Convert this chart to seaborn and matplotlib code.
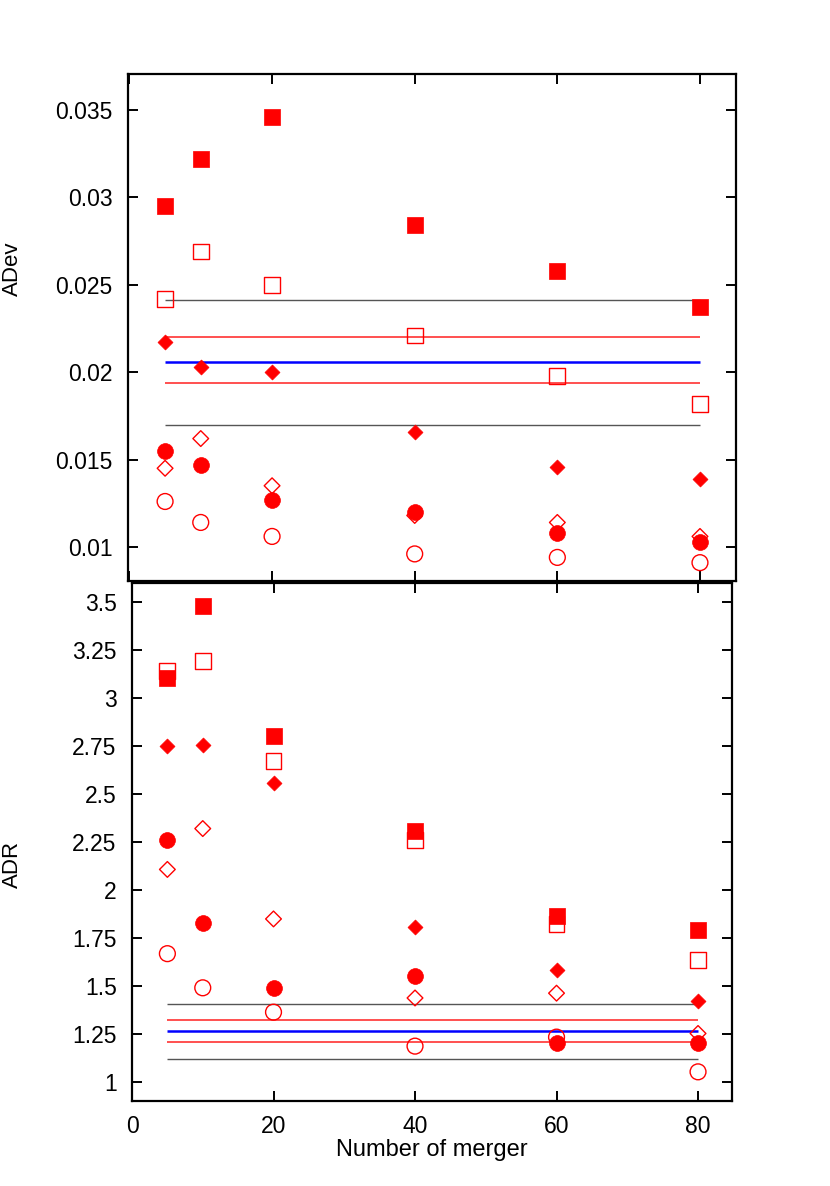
import numpy as np
import pandas as pd
import matplotlib
matplotlib.use("Agg")
import matplotlib.pyplot as plt
import seaborn as sns

sns.set_style("white")
plt.rcParams['font.family'] = ['Liberation Sans', 'DejaVu Sans']
plt.rcParams['text.color'] = 'black'
plt.rcParams['axes.labelcolor'] = 'black'
plt.rcParams['xtick.color'] = 'black'
plt.rcParams['ytick.color'] = 'black'

# ==== data ====
mergers = [5, 10, 20, 40, 60, 80]

# top panel: ADev
adev_sq_filled = [0.0295, 0.0322, 0.0346, 0.0284, 0.0258, 0.0237]
adev_sq_open = [0.0242, 0.0269, 0.0250, 0.0221, 0.0198, 0.0182]
adev_dia_filled = [0.0217, 0.0203, 0.0200, 0.0166, 0.0146, 0.0139]
adev_dia_open = [0.0145, 0.0162, 0.0135, 0.0118, 0.0114, 0.0106]
adev_circ_filled = [0.0155, 0.0147, 0.0127, 0.0120, 0.0108, 0.0103]
adev_circ_open = [0.0126, 0.0114, 0.0106, 0.0096, 0.0094, 0.0091]
adev_lines = {"gray_hi": 0.0241, "red_hi": 0.0220, "blue": 0.0206,
              "red_lo": 0.0194, "gray_lo": 0.0170}

# bottom panel: ADR
adr_sq_filled = [3.105, 3.480, 2.803, 2.308, 1.862, 1.792]
adr_sq_open = [3.143, 3.195, 2.671, 2.260, 1.824, 1.635]
adr_dia_filled = [2.750, 2.757, 2.555, 1.807, 1.583, 1.422]
adr_dia_open = [2.107, 2.320, 1.849, 1.437, 1.462, 1.252]
adr_circ_filled = [2.262, 1.828, 1.488, 1.549, 1.200, 1.203]
adr_circ_open = [1.668, 1.490, 1.363, 1.186, 1.233, 1.052]
adr_lines = {"gray_hi": 1.408, "red_hi": 1.321, "blue": 1.264,
             "red_lo": 1.207, "gray_lo": 1.118}

line_colors = {"gray_hi": "#555555", "red_hi": "#ff2020", "blue": "#0000ff",
               "red_lo": "#ff2020", "gray_lo": "#555555"}
line_widths = {"gray_hi": 1.0, "red_hi": 1.1, "blue": 1.8,
               "red_lo": 1.1, "gray_lo": 1.0}

# (marker, filled, size)
styles = [("s", True, 120), ("s", False, 130), ("D", True, 58),
          ("D", False, 64), ("o", True, 130), ("o", False, 130)]


def draw_panel(ax, series, lines):
    for name, val in lines.items():
        ax.hlines(val, min(mergers), max(mergers), color=line_colors[name],
                  linewidth=line_widths[name], zorder=1)
    for vals, (m, filled, s) in zip(series, styles):
        df = pd.DataFrame({"x": mergers, "y": vals})
        if filled:
            sns.scatterplot(data=df, x="x", y="y", ax=ax, marker=m, s=s,
                            color="red", edgecolor="red", linewidth=0.5, zorder=3)
        else:
            sns.scatterplot(data=df, x="x", y="y", ax=ax, marker=m, s=s,
                            facecolor="none", edgecolor="red", linewidth=1.0, zorder=3)
    for sp in ax.spines.values():
        sp.set_linewidth(1.6)
        sp.set_color("black")
    ax.tick_params(direction="in", length=7.5, width=1.4, top=True, right=True,
                   bottom=True, left=True, labelsize=16.5)
    ax.set_xticks([0, 20, 40, 60, 80])


fig = plt.figure(figsize=(8.3, 11.86), dpi=100)
ax1 = fig.add_axes([128 / 830, 1 - 581 / 1186, 608 / 830, 507 / 1186])
ax2 = fig.add_axes([132 / 830, 1 - 1101 / 1186, 600 / 830, 518 / 1186])

draw_panel(ax1, [adev_sq_filled, adev_sq_open, adev_dia_filled, adev_dia_open,
                 adev_circ_filled, adev_circ_open], adev_lines)
draw_panel(ax2, [adr_sq_filled, adr_sq_open, adr_dia_filled, adr_dia_open,
                 adr_circ_filled, adr_circ_open], adr_lines)

ax1.set_xlim(-0.2, 85.05)
ax1.set_ylim(0.00805, 0.03706)
ax1.set_yticks([0.01, 0.015, 0.02, 0.025, 0.03, 0.035])
ax1.set_yticklabels(["0.01", "0.015", "0.02", "0.025", "0.03", "0.035"])
ax1.tick_params(axis="x", labelbottom=False)
ax1.tick_params(axis="y", pad=11)
ax1.set_xlabel("")
ax1.set_ylabel("ADev", fontsize=16)
ax1.yaxis.set_label_coords((23 - 128) / 608, 1 - (269 - 74) / 507)

ax2.set_xlim(0, 84.8)
ax2.set_ylim(0.90, 3.60)
yt = [1, 1.25, 1.5, 1.75, 2, 2.25, 2.5, 2.75, 3, 3.25, 3.5]
ax2.set_yticks(yt)
ax2.set_yticklabels([f"{v:g}" for v in yt])
ax2.tick_params(axis="y", pad=11)
ax2.tick_params(axis="x", pad=10)
ax2.set_xlabel("Number of merger", fontsize=17, labelpad=1)
ax2.set_ylabel("ADR", fontsize=16)
ax2.yaxis.set_label_coords((23 - 132) / 600, 1 - (864 - 583) / 518)

fig.savefig("out.png", dpi=100)
